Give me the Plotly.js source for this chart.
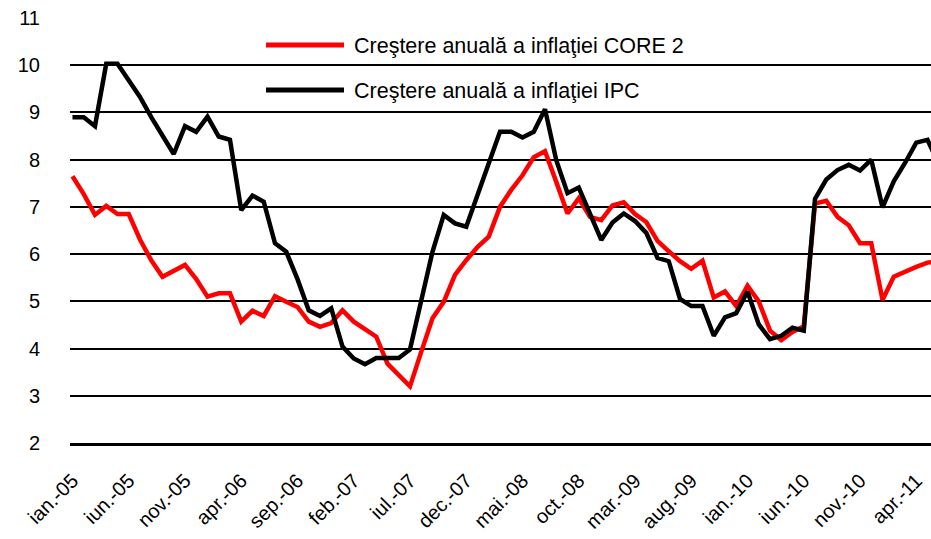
<!DOCTYPE html>
<html>
<head>
<meta charset="utf-8">
<script src="https://cdn.plot.ly/plotly-3.0.1.min.js"></script>
<style>html,body{margin:0;padding:0;background:#fff;}#chart{width:931px;height:539px;}</style>
</head>
<body>
<div id="chart"></div>
<script>
// Monthly categories, Jan 2005 - Jun 2011
var months = [
  "ian.-05","feb.-05","mar.-05","apr.-05","mai.-05","iun.-05","iul.-05","aug.-05","sep.-05","oct.-05","nov.-05","dec.-05",
  "ian.-06","feb.-06","mar.-06","apr.-06","mai.-06","iun.-06","iul.-06","aug.-06","sep.-06","oct.-06","nov.-06","dec.-06",
  "ian.-07","feb.-07","mar.-07","apr.-07","mai.-07","iun.-07","iul.-07","aug.-07","sep.-07","oct.-07","nov.-07","dec.-07",
  "ian.-08","feb.-08","mar.-08","apr.-08","mai.-08","iun.-08","iul.-08","aug.-08","sep.-08","oct.-08","nov.-08","dec.-08",
  "ian.-09","feb.-09","mar.-09","apr.-09","mai.-09","iun.-09","iul.-09","aug.-09","sep.-09","oct.-09","nov.-09","dec.-09",
  "ian.-10","feb.-10","mar.-10","apr.-10","mai.-10","iun.-10","iul.-10","aug.-10","sep.-10","oct.-10","nov.-10","dec.-10",
  "ian.-11","feb.-11","mar.-11","apr.-11","mai.-11","iun.-11"
];

// Tick labels shown on the x axis
var tickLabels = ["ian.-05","iun.-05","nov.-05","apr.-06","sep.-06","feb.-07","iul.-07","dec.-07",
  "mai.-08","oct.-08","mar.-09","aug.-09","ian.-10","iun.-10","nov.-10","apr.-11"];

// Creştere anuală a inflaţiei CORE 2 (%)
var core2 = [
  7.65, 7.27, 6.83, 7.02, 6.85, 6.85, 6.31, 5.87, 5.52, 5.64, 5.77, 5.47,
  5.10, 5.17, 5.17, 4.57, 4.80, 4.69, 5.11, 4.99, 4.88, 4.57, 4.46, 4.54,
  4.81, 4.57, 4.40, 4.25, 3.68, 3.44, 3.20, 3.93, 4.64, 4.99, 5.56, 5.87,
  6.15, 6.37, 7.00, 7.36, 7.67, 8.05, 8.18, 7.53, 6.86, 7.18, 6.79, 6.72,
  7.03, 7.10, 6.85, 6.68, 6.28, 6.06, 5.85, 5.69, 5.86, 5.08, 5.21, 4.90,
  5.33, 5.00, 4.38, 4.18, 4.35, 4.47, 7.07, 7.13, 6.79, 6.61, 6.23, 6.23,
  5.03, 5.52, 5.63, 5.73, 5.82, 5.85
];

// Creştere anuală a inflaţiei IPC (%)
var ipc = [
  8.90, 8.90, 8.71, 10.03, 10.03, 9.70, 9.33, 8.90, 8.50, 8.12, 8.71, 8.59,
  8.91, 8.49, 8.42, 6.93, 7.24, 7.11, 6.23, 6.05, 5.47, 4.81, 4.69, 4.85,
  4.04, 3.79, 3.67, 3.80, 3.80, 3.80, 3.98, 5.02, 6.05, 6.83, 6.65, 6.58,
  7.23, 7.91, 8.59, 8.59, 8.47, 8.59, 9.07, 7.99, 7.29, 7.41, 6.86, 6.30,
  6.67, 6.86, 6.70, 6.45, 5.92, 5.85, 5.05, 4.90, 4.90, 4.27, 4.66, 4.75,
  5.21, 4.51, 4.20, 4.27, 4.44, 4.38, 7.17, 7.58, 7.78, 7.89, 7.77, 8.00,
  6.99, 7.54, 7.93, 8.36, 8.42, 7.90
];

var seriesNames = ["Creştere anuală a inflaţiei CORE 2", "Creştere anuală a inflaţiei IPC"];
var seriesColors = ["#ff0000", "#000000"];

var FONT = "Liberation Sans, Arial, Helvetica, sans-serif";

var traces = [
  {x: months, y: core2, type: "scatter", mode: "lines", name: seriesNames[0],
   line: {color: seriesColors[0], width: 4.5}, hoverinfo: "x+y"},
  {x: months, y: ipc, type: "scatter", mode: "lines", name: seriesNames[1],
   line: {color: seriesColors[1], width: 4.5}, hoverinfo: "x+y"}
];

// legend drawn manually (long line samples, no box)
var W = 931, H = 539, ML = 70, MR = 0, MT = 18, MB = 96;
var pw = W - ML - MR, ph = H - MT - MB;
function px2x(p){ return (p - ML) / pw; }
function py2y(p){ return (H - MB - p) / ph; }
var legendRows = [45, 90];
var shapes = [], annotations = [];
for (var i = 0; i < seriesNames.length; i++) {
  shapes.push({type: "line", xref: "paper", yref: "paper",
    x0: px2x(266), x1: px2x(344), y0: py2y(legendRows[i]), y1: py2y(legendRows[i]),
    line: {color: seriesColors[i], width: 5}});
  annotations.push({xref: "paper", yref: "paper", x: px2x(352), y: py2y(legendRows[i] + 1),
    xanchor: "left", yanchor: "middle", showarrow: false, text: seriesNames[i],
    font: {family: FONT, size: 21.5, color: "#000"}});
}

var layout = {
  width: W, height: H,
  margin: {l: ML, r: MR, t: MT, b: MB, pad: 0},
  paper_bgcolor: "#ffffff", plot_bgcolor: "#ffffff",
  showlegend: false,
  font: {family: FONT, size: 20, color: "#000"},
  xaxis: {
    type: "category",
    categoryorder: "array", categoryarray: months,
    range: [-0.22, 76.31],
    tickmode: "array", tickvals: tickLabels, ticktext: tickLabels,
    tickangle: -45,
    tickfont: {family: FONT, size: 20, color: "#000"},
    ticks: "", ticklabelstandoff: 15,
    showgrid: false, zeroline: false,
    showline: true, linecolor: "#000", linewidth: 3
  },
  yaxis: {
    range: [2, 11],
    tickmode: "linear", tick0: 2, dtick: 1,
    tickfont: {family: FONT, size: 20, color: "#000"},
    ticks: "", ticklabelstandoff: 29,
    showgrid: true, gridcolor: "#000", gridwidth: 2,
    zeroline: false, showline: false
  },
  shapes: shapes,
  annotations: annotations
};

Plotly.newPlot("chart", traces, layout, {displayModeBar: false, staticPlot: true});
</script>
</body>
</html>
